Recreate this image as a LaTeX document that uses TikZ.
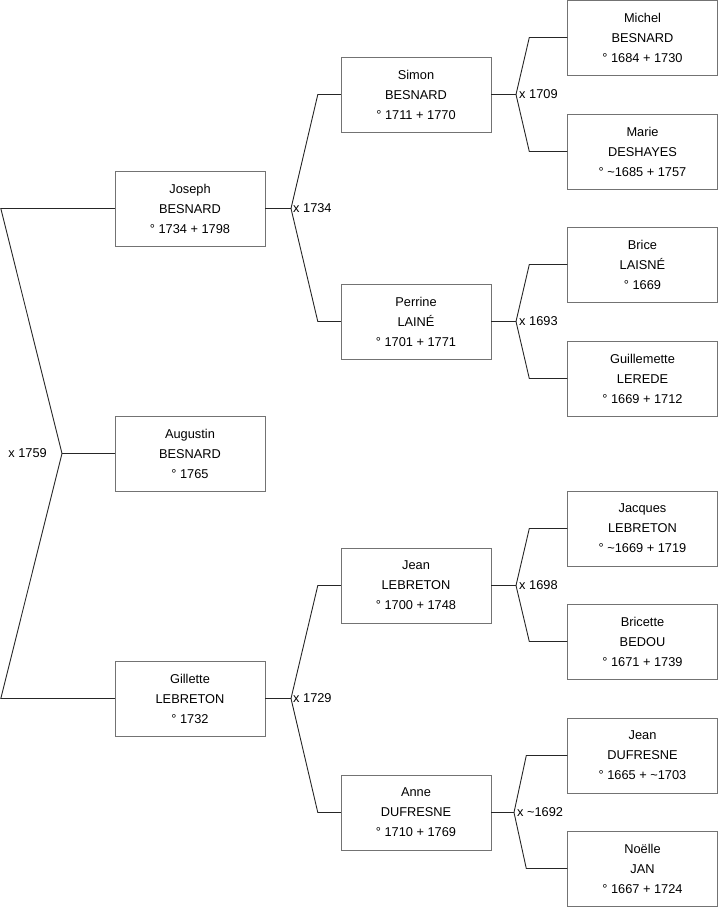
\documentclass[tikz,border=0pt]{standalone}
\usepackage{fontspec}
\setmainfont{Liberation Sans}
\usetikzlibrary{calc}

\begin{document}
\begin{tikzpicture}[
                x=1pt, y=-1pt,
                font=\fontsize{12.8}{20}\selectfont,
                person/.style={draw=black!55, fill=white, align=center, minimum width=150pt, minimum height=75pt, inner sep=2pt},
                link/.style={draw=black!85, line width=0.9pt},
                union/.style={inner sep=1pt}
            ]
            \useasboundingbox (0,0) rectangle (719,908);
            \node[person] (augustin) at (190,453.5) {Augustin\\BESNARD\\° 1765};
            \node[person] (joseph) at (190,208.5) {Joseph\\BESNARD\\° 1734 + 1798};
            \node[person] (gillette) at (190,698.5) {Gillette\\LEBRETON\\° 1732};
            \node[person] (simon) at (416,94.5) {Simon\\BESNARD\\° 1711 + 1770};
            \node[person] (perrine) at (416,321.5) {Perrine\\LAINÉ\\° 1701 + 1771};
            \node[person] (jean) at (416,585.5) {Jean\\LEBRETON\\° 1700 + 1748};
            \node[person] (anne) at (416,812.5) {Anne\\DUFRESNE\\° 1710 + 1769};
            \node[person] (michel) at (642.5,37.5) {Michel\\BESNARD\\° 1684 + 1730};
            \node[person] (marie) at (642.5,151.5) {Marie\\DESHAYES\\° \textasciitilde1685 + 1757};
            \node[person] (brice) at (642.5,264.5) {Brice\\LAISNÉ\\° 1669};
            \node[person] (guillemette) at (642.5,378.5) {Guillemette\\LEREDE\\° 1669 + 1712};
            \node[person] (jacques) at (642.5,528.5) {Jacques\\LEBRETON\\° \textasciitilde1669 + 1719};
            \node[person] (bricette) at (642.5,641.5) {Bricette\\BEDOU\\° 1671 + 1739};
            \node[person] (jeandu) at (642.5,755.5) {Jean\\DUFRESNE\\° 1665 + \textasciitilde1703};
            \node[person] (noelle) at (642.5,868.5) {Noëlle\\JAN\\° 1667 + 1724};
            \coordinate (jA) at (62,453.5);
            \coordinate (jJ) at (291,208.5);
            \coordinate (jG) at (291,698.5);
            \coordinate (jS) at (516,94.5);
            \coordinate (jP) at (516,321.5);
            \coordinate (jL) at (516,585.5);
            \coordinate (jD) at (514,812.5);
            \node[union, left=14pt] (uA) at (jA) {x 1759};
            \node[union, right=1pt] (uJ) at (jJ) {x 1734};
            \node[union, right=1pt] (uG) at (jG) {x 1729};
            \node[union, right=2pt] (uS) at (jS) {x 1709};
            \node[union, right=2pt] (uP) at (jP) {x 1693};
            \node[union, right=2pt] (uL) at (jL) {x 1698};
            \node[union, right=2pt] (uD) at (jD) {x \textasciitilde1692};
            \draw[link] (augustin.west) -- (jA);
            \draw[link] (joseph.west) -- ++(-114,0) -- (jA) -- ($(gillette.west)+(-114,0)$) -- (gillette.west);
            \draw[link] (joseph.east) -- (jJ);
            \draw[link] (simon.west) -- ++(-23,0) -- (jJ) -- ($(perrine.west)+(-23,0)$) -- (perrine.west);
            \draw[link] (gillette.east) -- (jG);
            \draw[link] (jean.west) -- ++(-23,0) -- (jG) -- ($(anne.west)+(-23,0)$) -- (anne.west);
            \draw[link] (simon.east) -- (jS);
            \draw[link] (michel.west) -- ++(-38,0) -- (jS) -- ($(marie.west)+(-38,0)$) -- (marie.west);
            \draw[link] (perrine.east) -- (jP);
            \draw[link] (brice.west) -- ++(-38,0) -- (jP) -- ($(guillemette.west)+(-38,0)$) -- (guillemette.west);
            \draw[link] (jean.east) -- (jL);
            \draw[link] (jacques.west) -- ++(-38,0) -- (jL) -- ($(bricette.west)+(-38,0)$) -- (bricette.west);
            \draw[link] (anne.east) -- (jD);
            \draw[link] (jeandu.west) -- ++(-41,0) -- (jD) -- ($(noelle.west)+(-41,0)$) -- (noelle.west);
        \end{tikzpicture}
\end{document}
